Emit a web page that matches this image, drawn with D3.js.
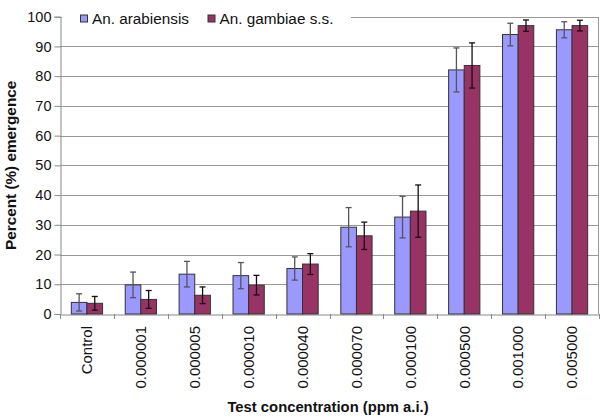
<!DOCTYPE html>
<html>
<head>
<meta charset="utf-8">
<script src="https://cdn.jsdelivr.net/npm/d3@7"></script>
<style>
  html, body { margin: 0; padding: 0; background: #fff; }
  svg { display: block; font-family: "Liberation Sans", Arial, sans-serif; }
</style>
</head>
<body>
<svg id="chart" width="600" height="418"></svg>
<script>
const categories = ["Control", "0.000001", "0.000005", "0.000010", "0.000040", "0.000070", "0.000100", "0.000500", "0.001000", "0.005000"];
const seriesNames = ["An. arabiensis", "An. gambiae s.s."];
const arabiensis = [3.9, 9.8, 13.4, 12.9, 15.3, 29.2, 32.6, 82.1, 94.0, 95.6];
const arabiensisErr = [2.9, 4.3, 4.3, 4.4, 3.9, 6.6, 7.0, 7.4, 3.8, 2.7];
const gambiae = [3.6, 4.9, 6.3, 9.7, 16.8, 26.3, 34.6, 83.6, 97.0, 97.0];
const gambiaeErr = [2.3, 3.0, 2.8, 3.3, 3.5, 4.6, 8.8, 7.6, 1.9, 1.8];
const yTicks = [0, 10, 20, 30, 40, 50, 60, 70, 80, 90, 100];

const colors = ["#9999FF", "#993366"];
const errColors = ["#555555", "#111111"];

const svg = d3.select("#chart");
const mLeft = 60, mRight = 599, mTop = 16.7, mBottom = 314;

const x = d3.scaleBand().domain(categories).range([mLeft, mRight]).padding(0);
const groupW = x.bandwidth() * 0.58;
const x1 = d3.scaleBand().domain(seriesNames).range([0, groupW]).padding(0);
const y = d3.scaleLinear().domain([0, 100]).range([mBottom, mTop]);

// gridlines
svg.append("g").selectAll("line").data(yTicks.filter(d => d > 0)).join("line")
  .attr("x1", mLeft).attr("x2", mRight)
  .attr("y1", d => Math.round(y(d)) + 0.5).attr("y2", d => Math.round(y(d)) + 0.5)
  .attr("stroke", "#9a9a9a").attr("stroke-width", 1);

// right border
svg.append("line").attr("x1", mRight - 0.5).attr("x2", mRight - 0.5)
  .attr("y1", Math.round(y(100)) + 0.5).attr("y2", mBottom).attr("stroke", "#9a9a9a");

// y axis
const yAxis = d3.axisLeft(y).tickValues(yTicks).tickSize(6).tickPadding(3);
const gy = svg.append("g").attr("transform", `translate(${mLeft + 0.5},0)`).call(yAxis);
gy.select(".domain").attr("stroke", "#888");
gy.selectAll(".tick line").attr("stroke", "#888");
gy.selectAll(".tick text").attr("font-size", "14.5px").attr("fill", "#111")
  .attr("font-family", "Liberation Sans, Arial, sans-serif");

// x axis
const xAxis = d3.axisBottom(x).tickSize(0).tickFormat("");
const gx = svg.append("g").attr("transform", `translate(0,${Math.round(mBottom) + 0.5})`).call(xAxis);
gx.select(".domain").attr("stroke", "#888");
gx.selectAll(".tick").remove();
// ticks at band boundaries
const boundaries = categories.map(c => x(c)).concat([mRight]);
svg.append("g").selectAll("line").data(boundaries).join("line")
  .attr("x1", d => Math.round(d) + 0.5)
  .attr("x2", d => Math.round(d) + 0.5)
  .attr("y1", mBottom).attr("y2", mBottom + 5)
  .attr("stroke", "#888");

// x labels
svg.append("g").selectAll("text").data(categories).join("text")
  .attr("transform", d => `translate(${x(d) + x.bandwidth() / 2},326) rotate(-90)`)
  .attr("text-anchor", "end").attr("dy", "0.35em")
  .attr("font-size", "15px").attr("fill", "#111")
  .text(d => d);

// bars
const seriesVals = [arabiensis, gambiae];
const seriesErrs = [arabiensisErr, gambiaeErr];
const groups = svg.append("g").selectAll("g").data(categories).join("g")
  .attr("transform", d => `translate(${x(d) + (x.bandwidth() - groupW) / 2},0)`);

seriesNames.forEach((s, si) => {
  groups.append("rect")
    .attr("x", x1(s))
    .attr("y", (d, i) => y(seriesVals[si][i]))
    .attr("width", x1.bandwidth())
    .attr("height", (d, i) => mBottom - y(seriesVals[si][i]))
    .attr("fill", colors[si])
    .attr("stroke", "#333").attr("stroke-width", 1);
});

// error bars
seriesNames.forEach((s, si) => {
  const cx = x1(s) + x1.bandwidth() / 2;
  groups.append("line")
    .attr("x1", cx).attr("x2", cx)
    .attr("y1", (d, i) => y(seriesVals[si][i] + seriesErrs[si][i]))
    .attr("y2", (d, i) => y(seriesVals[si][i] - seriesErrs[si][i]))
    .attr("stroke", errColors[si]).attr("stroke-width", 1.3);
  [1, -1].forEach(sign => {
    groups.append("line")
      .attr("x1", cx - 3).attr("x2", cx + 3)
      .attr("y1", (d, i) => y(seriesVals[si][i] + sign * seriesErrs[si][i]))
      .attr("y2", (d, i) => y(seriesVals[si][i] + sign * seriesErrs[si][i]))
      .attr("stroke", errColors[si]).attr("stroke-width", 1.3);
  });
});

// legend
svg.append("rect").attr("x", mLeft + 2).attr("y", 8).attr("width", 289).attr("height", 20).attr("fill", "#fff");
const legendX = [80.5, 208];
seriesNames.forEach((s, si) => {
  svg.append("rect").attr("x", legendX[si]).attr("y", 15).attr("width", 7).attr("height", 7)
    .attr("fill", colors[si]).attr("stroke", "#333").attr("stroke-width", 1);
  svg.append("text").attr("x", legendX[si] + 11.5).attr("y", 24)
    .attr("font-size", "15.3px").attr("fill", "#111").text(s);
});

// axis titles
svg.append("text")
  .attr("transform", `translate(11,${(mTop + mBottom) / 2}) rotate(-90)`)
  .attr("text-anchor", "middle").attr("dy", "0.35em")
  .attr("font-size", "15.3px").attr("font-weight", "bold").attr("fill", "#111")
  .text("Percent (%) emergence");

svg.append("text")
  .attr("x", 328).attr("y", 412)
  .attr("text-anchor", "middle")
  .attr("font-size", "14.8px").attr("font-weight", "bold").attr("fill", "#111")
  .text("Test concentration (ppm a.i.)");
</script>
</body>
</html>
